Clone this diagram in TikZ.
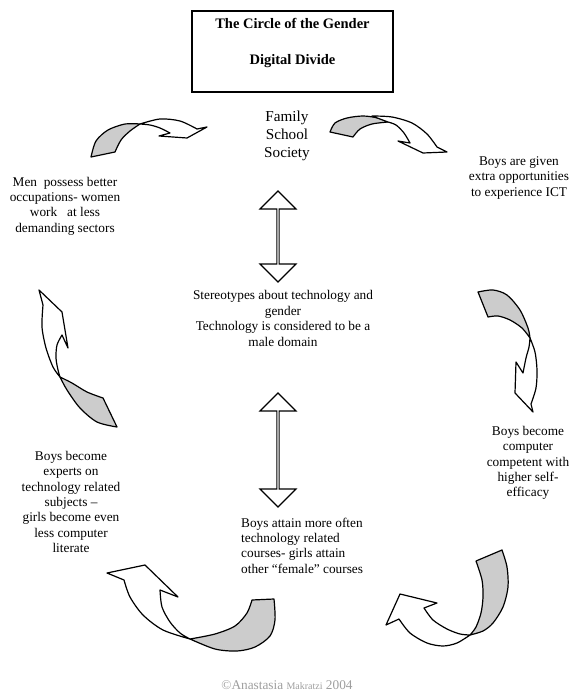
\documentclass[tikz,border=0pt]{standalone}
\usepackage{fontspec}
\setmainfont{Liberation Serif}
\usepackage{tikz}
\usetikzlibrary{shapes.arrows}
\definecolor{bandgray}{gray}{0.8}
\definecolor{markgray}{gray}{0.62}

\begin{document}
\begin{tikzpicture}[x=1pt,y=-1pt,
  box node/.style={draw, line width=1.2pt, minimum width=201pt, minimum height=81pt, inner sep=0pt},
  text node/.style={align=center, inner sep=0pt, font=\fontsize{13.3}{15.4}\selectfont},
  link node/.style={double arrow, draw, line width=1.2pt, fill=white, rotate=90,
    double arrow head extend=9pt, minimum width=36pt, inner sep=0pt},
  bandtail/.style={draw, line width=1.2pt, fill=bandgray, line join=round},
  bandhead/.style={draw, line width=1.2pt, fill=white, line join=round}]
  \useasboundingbox (0,0) rectangle (572,693);

  % Nodes
  \node[box node] (title) at (292.5,51.5) {};
  \node[align=center, inner sep=0pt, font=\fontsize{14.5}{17}\bfseries] (titletext) at (292.5,43)
    {The Circle of the Gender\\[19pt]Digital Divide};
  \node[align=center, inner sep=0pt, font=\fontsize{15.2}{18}\selectfont] (family) at (287,136)
    {Family\\School\\Society};
  \node[text node] (stereo) at (283,318.5)
    {Stereotypes about technology and\\gender\\Technology is considered to be a\\male domain};
  \node[text node] (men) at (65,206)
    {Men\ \ possess better\\occupations- women\\work\ \ \ at less\\demanding sectors};
  \node[text node] (given) at (519,178)
    {Boys are given\\extra opportunities\\to experience ICT};
  \node[text node] (competent) at (528,463)
    {Boys become\\computer\\competent with\\higher self-\\efficacy};
  \node[text node] (experts) at (71,502)
    {Boys become\\experts on\\technology related\\subjects –\\girls become even\\less computer\\literate};
  \node[text node, align=left, anchor=west] (courses) at (241,545.5)
    {Boys attain more often\\technology related\\courses- girls attain\\other “female” courses};
  \node[inner sep=0pt, text=markgray, font=\fontsize{13.3}{15.4}\selectfont] (mark) at (287,685)
    {©Anastasia {\fontsize{10}{12}\selectfont Makratzi} 2004};

  \node[link node, minimum height=91pt] (link1) at (278,236.5) {};
  \node[link node, minimum height=114pt] (link2) at (278,450) {};

  % top left
  \draw[bandtail] plot[smooth] coordinates {(91,157) (96,141) (108,130) (125,124) (140,124)}
    -- plot[smooth] coordinates {(140,124) (130,131) (121,140) (115,152)} -- cycle;
  \draw[bandhead] plot[smooth] coordinates {(140,124) (160,119) (180,121) (197,129)}
    -- (207,127) -- (187,138) -- (159,136) -- (170,133)
    -- plot[smooth] coordinates {(170,133) (160,128) (150,125) (140,124)} -- cycle;
  % top right
  \draw[bandtail] plot[smooth] coordinates {(330,132) (335,123) (347,118) (363,116) (378,118) (388,122)}
    -- plot[smooth] coordinates {(388,122) (372,124) (360,129) (353,137)} -- cycle;
  \draw[bandhead] plot[smooth] coordinates {(372,116) (392,117) (412,123) (427,134) (437,147)}
    -- (447,152) -- (423,153) -- (398,141) -- (410,143)
    -- plot[smooth] coordinates {(410,143) (404,133) (396,125) (388,122)} -- cycle;
  % right
  \draw[bandtail] plot[smooth] coordinates {(478,292) (493,290) (507,295) (520,310) (528,328) (530,338)}
    -- plot[smooth] coordinates {(530,338) (522,328) (510,320) (498,316) (488,317)} -- cycle;
  \draw[bandhead] plot[smooth] coordinates {(530,338) (535,352) (537,370) (536,388) (531,404)}
    -- (533,412) -- (515,393) -- (516,362) -- (523,373)
    -- plot[smooth] coordinates {(523,373) (526,358) (529,347) (530,338)} -- cycle;
  % bottom right
  \draw[bandtail] plot[smooth] coordinates {(502,550) (507,567) (508,587) (503,607) (493,623) (483,631) (470,635)}
    -- plot[smooth] coordinates {(470,635) (476,627) (481,613) (483,597) (482,580) (476,561)} -- cycle;
  \draw[bandhead] plot[smooth] coordinates {(470,635) (457,643) (443,646) (427,643) (410,633) (399,619)}
    -- (386,625) -- (400,594) -- (437,603) -- (424,608)
    -- plot[smooth] coordinates {(424,608) (433,620) (447,629) (460,634) (470,635)} -- cycle;
  % bottom left
  \draw[bandtail] plot[smooth] coordinates {(274,599) (275,620) (270,636) (255,647) (237,651) (215,649) (190,639)}
    -- plot[smooth] coordinates {(190,639) (215,634) (235,626) (247,613) (252,600)} -- cycle;
  \draw[bandhead] plot[smooth] coordinates {(190,639) (163,630) (143,615) (130,597) (124,580)}
    -- (107,573) -- (145,565) -- (178,597) -- (160,590)
    -- plot[smooth] coordinates {(160,590) (162,607) (170,622) (180,633) (190,639)} -- cycle;
  % left
  \draw[bandtail] plot[smooth] coordinates {(117,427) (97,422) (80,408) (67,390) (60,377)}
    -- plot[smooth] coordinates {(60,377) (72,383) (87,392) (103,398)} -- cycle;
  \draw[bandhead] plot[smooth] coordinates {(60,377) (53,367) (46,348) (42,327) (43,305)}
    -- (39,290) -- (62,312) -- (68,348) -- (62,335)
    -- plot[smooth] coordinates {(62,335) (57,345) (56,358) (58,370) (60,377)} -- cycle;
\end{tikzpicture}
\end{document}
